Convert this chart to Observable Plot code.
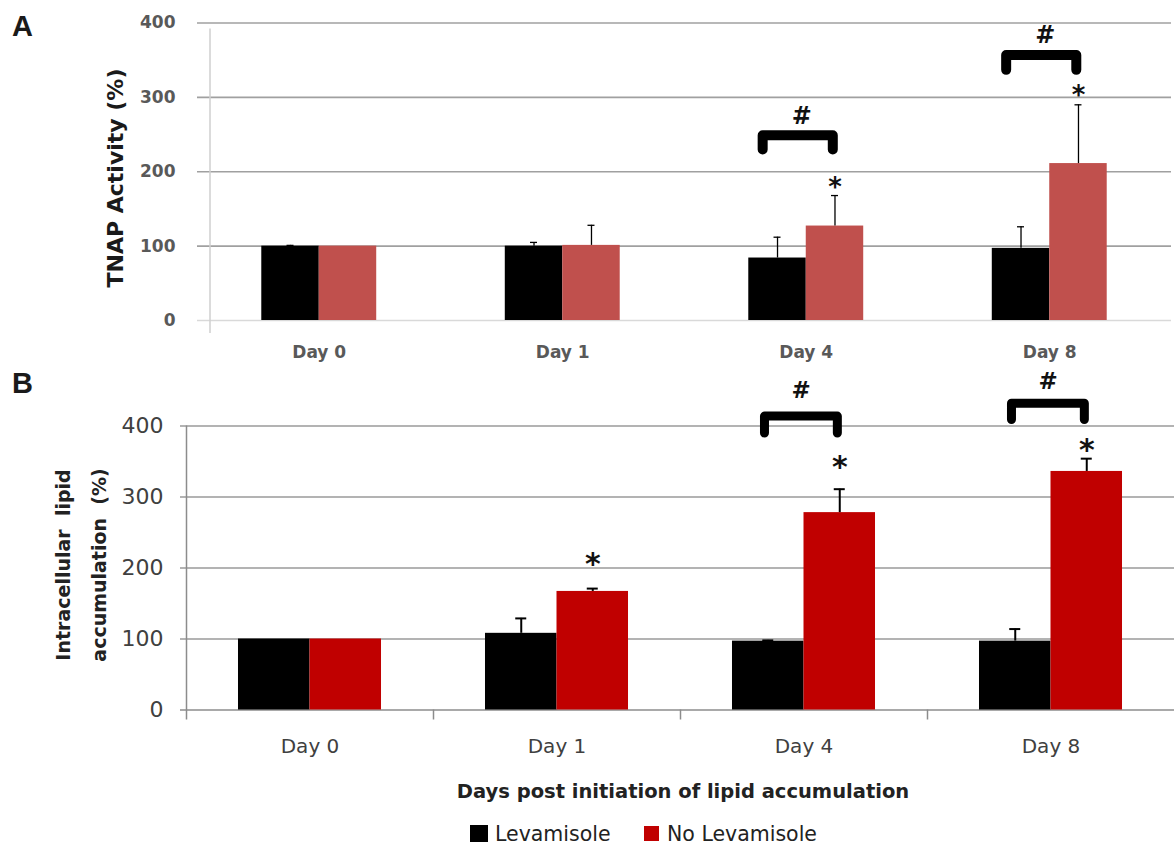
<!DOCTYPE html>
<html>
<head>
<meta charset="utf-8">
<script src="https://cdn.jsdelivr.net/npm/d3@7"></script>
<script src="https://cdn.jsdelivr.net/npm/@observablehq/plot@0.6"></script>
<style>
  body { margin: 0; background: #fff; }
  #fig { position: relative; width: 1174px; height: 846px; overflow: hidden; background: #fff; }
  .lbl { position: absolute; white-space: pre; line-height: 1; }
  #panelB g[aria-label="y-axis tick label"] text { font-size: 22px; }
  #panelB g[aria-label="x-axis tick label"] text { font-size: 20px; }
</style>
</head>
<body>
<div id="fig"></div>
<script>
// Categories and series
const days = ["Day 0", "Day 1", "Day 4", "Day 8"];
const series = ["Levamisole", "No Levamisole"];
const yTicks = [0, 100, 200, 300, 400];

// Panel A: TNAP activity (%), mean and upper error
const tnapLev      = [100, 100, 84, 97];
const tnapLevErr   = [1, 5, 28, 29];
const tnapNoLev    = [100, 101, 127, 211];
const tnapNoLevErr = [0, 27, 41, 79];

// Panel B: intracellular lipid accumulation (%), mean and upper error
const lipidLev      = [100, 108, 97, 97];
const lipidLevErr   = [0, 21, 1, 17];
const lipidNoLev    = [100, 167, 278, 336];
const lipidNoLevErr = [0, 4, 33, 18];

// Significance marks (y in data units): * vs Day 0, # Levamisole vs No Levamisole
const starsA = [{day: "Day 4", y: 186}, {day: "Day 8", y: 310}];
const starsB = [{day: "Day 1", y: 215}, {day: "Day 4", y: 351}, {day: "Day 8", y: 375}];
const bracketsA = [
  {day: "Day 4", top: 249, foot: 230, hash: 274},
  {day: "Day 8", top: 357, foot: 337, hash: 383}
];
const bracketsB = [
  {day: "Day 4", top: 414, foot: 390, hash: 450},
  {day: "Day 8", top: 432, foot: 409, hash: 463}
];

const fig = document.getElementById("fig");

function place(node, left, top, id) {
  const d = document.createElement("div");
  d.style.cssText = `position:absolute;left:${left}px;top:${top}px;`;
  if (id) d.id = id;
  d.appendChild(node);
  fig.appendChild(d);
}

function label(text, x, y, css, mode) {
  const el = document.createElement("div");
  el.className = "lbl";
  el.textContent = text;
  el.style.cssText += css;
  el.style.left = x + "px";
  el.style.top = y + "px";
  if (mode === "center") el.style.transform = "translate(-50%,-50%)";
  else if (mode === "rotate") el.style.transform = "translate(-50%,-50%) rotate(-90deg)";
  else if (mode === "left") el.style.transform = "translate(0,-50%)";
  fig.appendChild(el);
  return el;
}

function panel(o) {
  const rows = [];
  days.forEach((day, i) => {
    rows.push({day, i, series: series[0], side: -1, value: o.lev[i], err: o.levErr[i]});
    rows.push({day, i, series: series[1], side: 1, value: o.no[i], err: o.noErr[i]});
  });
  const hw = o.halfWidth;
  const xc = d => d.i + d.side * hw / 2;
  const withErr = rows.filter(d => d.err > 0);
  const at = day => days.indexOf(day);
  const bracketPts = o.brackets.flatMap(b => {
    const i = at(b.day);
    return [[i + o.bl, b.foot], [i + o.bl, b.top], [i + o.br, b.top], [i + o.br, b.foot]]
      .map(([x, y]) => ({day: b.day, x, y}));
  });
  return Plot.plot({
    width: 1174,
    height: o.height,
    marginLeft: o.ml, marginRight: o.mr, marginTop: o.mt, marginBottom: o.mb,
    style: o.style,
    x: {type: "linear", domain: [-0.5, 3.5], ticks: days.map((_, i) => i), tickFormat: i => days[i],
        tickSize: 0, tickPadding: o.xPad, label: null},
    y: {domain: [0, 400], ticks: yTicks, tickSize: 0, tickPadding: o.yPad, label: null},
    color: {domain: series, range: o.colors},
    marks: [
      Plot.ruleY([0], {stroke: o.zeroStroke, strokeWidth: 1.5, insetLeft: o.gridInset}),
      Plot.ruleY(yTicks.slice(1), {stroke: o.gridStroke, strokeWidth: 1.6, insetLeft: o.gridInset}),
      Plot.ruleX([-0.5], {dx: o.axisDx, insetTop: o.axisTop, insetBottom: o.axisBottom, stroke: o.axisStroke, strokeWidth: 1.5}),
      ...(o.catTicks ? [Plot.ruleX([0.5, 1.5, 2.5], {y1: 0, y2: 0, insetBottom: -10, stroke: o.axisStroke, strokeWidth: 1.5})] : []),
      Plot.rectY(rows, {
        x1: d => d.side < 0 ? d.i - hw : d.i,
        x2: d => d.side < 0 ? d.i : d.i + hw,
        y1: 0, y2: "value", fill: "series"
      }),
      Plot.ruleX(withErr, {x: xc, y1: "value", y2: d => d.value + d.err, stroke: "#000", strokeWidth: o.errW}),
      Plot.ruleY(withErr, {y: d => d.value + d.err, x1: xc, x2: xc, insetLeft: -o.cap, insetRight: -o.cap, stroke: "#000", strokeWidth: o.errW}),
      Plot.line(bracketPts, {x: "x", y: "y", z: "day", stroke: "#000", strokeWidth: o.bw, strokeLinejoin: "round", strokeLinecap: "round"}),
      Plot.text(o.brackets, {x: d => at(d.day) + o.hashDx, y: "hash", text: () => "#", fill: "#111", fontSize: o.hashSize, fontWeight: "bold"}),
      Plot.text(o.stars, {x: d => at(d.day) + hw / 2, y: "y", text: () => "*", fill: "#111", fontSize: o.starSize, fontWeight: "bold", dy: o.starDy})
    ]
  });
}

// Panel A
place(panel({
  lev: tnapLev, levErr: tnapLevErr, no: tnapNoLev, noErr: tnapNoLevErr,
  stars: starsA, brackets: bracketsA,
  height: 370, ml: 197, mr: 3, mt: 22.5, mb: 50,
  halfWidth: 0.236, xPad: 25, yPad: 22, gridInset: 0,
  zeroStroke: "#d9d9d9", gridStroke: "#a0a0a0",
  axisDx: 12.5, axisTop: 6, axisBottom: -13, axisStroke: "#cfcfcf", catTicks: false,
  errW: 1.3, cap: 3.5, bw: 10, bl: -0.179, br: 0.109, hashDx: -0.018, hashSize: 24,
  starSize: 26, starDy: 6,
  colors: ["#000000", "#c0504d"],
  style: {fontFamily: "DejaVu Sans", fontSize: "17px", fontWeight: "bold", color: "#595959", background: "transparent", overflow: "visible"}
}), 0, 0, "panelA");

// Panel B
place(panel({
  lev: lipidLev, levErr: lipidLevErr, no: lipidNoLev, noErr: lipidNoLevErr,
  stars: starsB, brackets: bracketsB,
  height: 400, ml: 186, mr: 0, mt: 55.5, mb: 60.5,
  halfWidth: 0.2895, xPad: 28.5, yPad: 23, gridInset: -6,
  zeroStroke: "#8c8c8c", gridStroke: "#9a9a9a",
  axisDx: 0, axisTop: 0, axisBottom: -10, axisStroke: "#8c8c8c", catTicks: true,
  errW: 2, cap: 5.5, bw: 9, bl: -0.16, br: 0.135, hashDx: -0.012, hashSize: 23,
  starSize: 30, starDy: 7,
  colors: ["#000000", "#c00000"],
  style: {fontFamily: "DejaVu Sans", fontSize: "21px", color: "#404040", background: "transparent", overflow: "visible"}
}), 0, 370, "panelB");

// Panel letters and axis titles
const letterCss = "font-family:'Liberation Sans',Arial,sans-serif;font-weight:bold;font-size:29px;color:#1a1a1a;";
label("A", 12, 12, letterCss);
label("B", 12, 369, letterCss);
label("TNAP Activity (%)", 115.5, 177.5, "font-family:'DejaVu Sans';font-weight:bold;font-size:22px;color:#1a1a1a;", "rotate");
label("Intracellular  lipid", 63, 565, "font-family:'DejaVu Sans';font-weight:bold;font-size:19px;color:#222;", "rotate");
label("accumulation  (%)", 99, 565, "font-family:'DejaVu Sans';font-weight:bold;font-size:19px;color:#222;", "rotate");
label("Days post initiation of lipid accumulation", 683, 792, "font-family:'DejaVu Sans';font-weight:bold;font-size:19.5px;color:#222;", "center");

// Legend
const swatchColors = ["#000000", "#c00000"];
const legendItems = [
  {name: series[0], sq: [470, 825, 18, 17], tx: 495},
  {name: series[1], sq: [644, 826, 15, 15], tx: 667}
];
legendItems.forEach((it, k) => {
  const s = document.createElement("div");
  s.style.cssText = `position:absolute;left:${it.sq[0]}px;top:${it.sq[1]}px;width:${it.sq[2]}px;height:${it.sq[3]}px;background:${swatchColors[k]};`;
  fig.appendChild(s);
  label(it.name, it.tx, 834, "font-family:'DejaVu Sans';font-size:20.5px;color:#222;", "left");
});
</script>
</body>
</html>
